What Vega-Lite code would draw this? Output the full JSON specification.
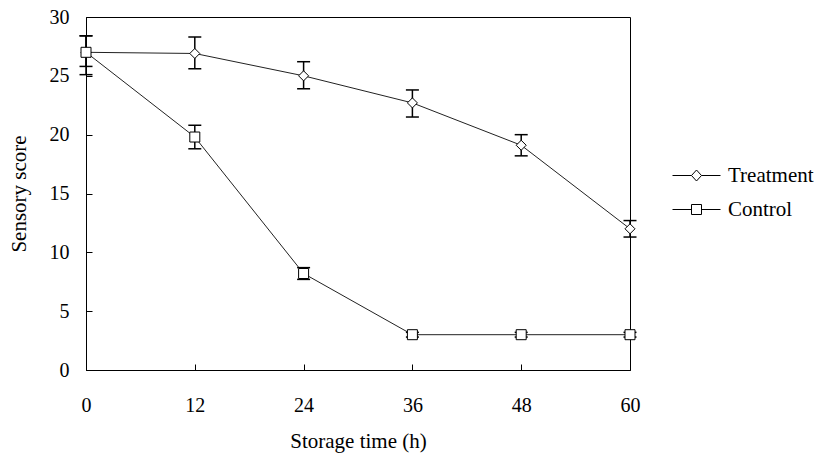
{
  "$schema": "https://vega.github.io/schema/vega-lite/v6.json",
  "width": 544,
  "height": 353,
  "autosize": "none",
  "padding": {"left": 86, "top": 17, "right": 197, "bottom": 91},
  "background": "white",
  "config": {
    "view": {"stroke": "black", "strokeWidth": 1},
    "font": "Liberation Serif",
    "axis": {
      "grid": false,
      "domainColor": "black",
      "tickColor": "black",
      "tickSize": -6,
      "labelColor": "black",
      "titleColor": "black",
      "labelFont": "Liberation Serif",
      "titleFont": "Liberation Serif",
      "labelFontSize": 20,
      "titleFontSize": 21,
      "titleFontWeight": "normal"
    }
  },
  "data": {
    "values": [
      {"group": "Treatment", "t": 0, "score": 27.0, "lo": 25.8, "hi": 28.4},
      {"group": "Treatment", "t": 12, "score": 26.9, "lo": 25.6, "hi": 28.3},
      {"group": "Treatment", "t": 24, "score": 25.0, "lo": 23.9, "hi": 26.2},
      {"group": "Treatment", "t": 36, "score": 22.7, "lo": 21.5, "hi": 23.8},
      {"group": "Treatment", "t": 48, "score": 19.1, "lo": 18.2, "hi": 20.0},
      {"group": "Treatment", "t": 60, "score": 12.0, "lo": 11.3, "hi": 12.7},
      {"group": "Control", "t": 0, "score": 27.0, "lo": 25.1, "hi": 28.4},
      {"group": "Control", "t": 12, "score": 19.8, "lo": 18.8, "hi": 20.8},
      {"group": "Control", "t": 24, "score": 8.2, "lo": 7.7, "hi": 8.7},
      {"group": "Control", "t": 36, "score": 3.0, "lo": 2.8, "hi": 3.2},
      {"group": "Control", "t": 48, "score": 3.0, "lo": 2.8, "hi": 3.2},
      {"group": "Control", "t": 60, "score": 3.0, "lo": 2.8, "hi": 3.2}
    ]
  },
  "encoding": {
    "x": {
      "field": "t",
      "type": "quantitative",
      "scale": {"domain": [0, 60], "nice": false},
      "axis": {"values": [0, 12, 24, 36, 48, 60], "title": "Storage time (h)", "labelPadding": 31, "titlePadding": 15, "labelFlush": false}
    }
  },
  "resolve": {"scale": {"shape": "independent"}, "legend": {"shape": "independent"}},
  "layer": [
    {
      "mark": {"type": "line", "color": "#222", "strokeWidth": 1},
      "encoding": {
        "y": {"field": "score", "type": "quantitative", "scale": {"domain": [0, 30], "nice": false},
              "axis": {"values": [0, 5, 10, 15, 20, 25, 30], "title": "Sensory score", "labelPadding": 23, "titlePadding": 20}},
        "detail": {"field": "group"}
      }
    },
    {
      "mark": {"type": "rule", "color": "black", "strokeWidth": 1.5},
      "encoding": {
        "y": {"field": "lo", "type": "quantitative", "title": "Sensory score"},
        "y2": {"field": "hi"}
      }
    },
    {
      "mark": {"type": "tick", "orient": "horizontal", "size": 13, "thickness": 1.5, "color": "black", "opacity": 1},
      "encoding": {"y": {"field": "hi", "type": "quantitative", "title": "Sensory score"}}
    },
    {
      "mark": {"type": "tick", "orient": "horizontal", "size": 13, "thickness": 1.5, "color": "black", "opacity": 1},
      "encoding": {"y": {"field": "lo", "type": "quantitative", "title": "Sensory score"}}
    },
    {
      "mark": {"type": "point", "filled": false, "color": "black", "fill": "white", "fillOpacity": 1, "strokeWidth": 1, "opacity": 1, "size": 100},
      "encoding": {
        "y": {"field": "score", "type": "quantitative", "title": "Sensory score"},
        "shape": {
          "field": "group",
          "type": "nominal",
          "scale": {"domain": ["Treatment", "Control"], "range": ["diamond", "square"]},
          "legend": null
        }
      }
    },
    {
      "mark": {"type": "point", "filled": false, "color": "black", "fill": "white", "fillOpacity": 1, "strokeWidth": 1, "opacity": 1, "size": 0},
      "encoding": {
        "y": {"field": "score", "type": "quantitative", "title": "Sensory score"},
        "shape": {
          "field": "group",
          "type": "nominal",
          "scale": {
            "domain": ["Treatment", "Control"],
            "range": [
              "M-2.4,0H-0.5M0.5,0H2.4M0,-0.55L0.5,0L0,0.55L-0.5,0Z",
              "M-2.4,0H-0.5M0.5,0H2.4M-0.5,-0.5H0.5V0.5H-0.5Z"
            ]
          },
          "legend": {
            "title": null,
            "orient": "none",
            "legendX": 600,
            "legendY": 148,
            "labelFont": "Liberation Serif",
            "labelFontSize": 21,
            "labelColor": "black",
            "labelOffset": 21,
            "rowPadding": 12,
            "symbolSize": 400,
            "symbolStrokeWidth": 1
          }
        }
      }
    }
  ]
}
